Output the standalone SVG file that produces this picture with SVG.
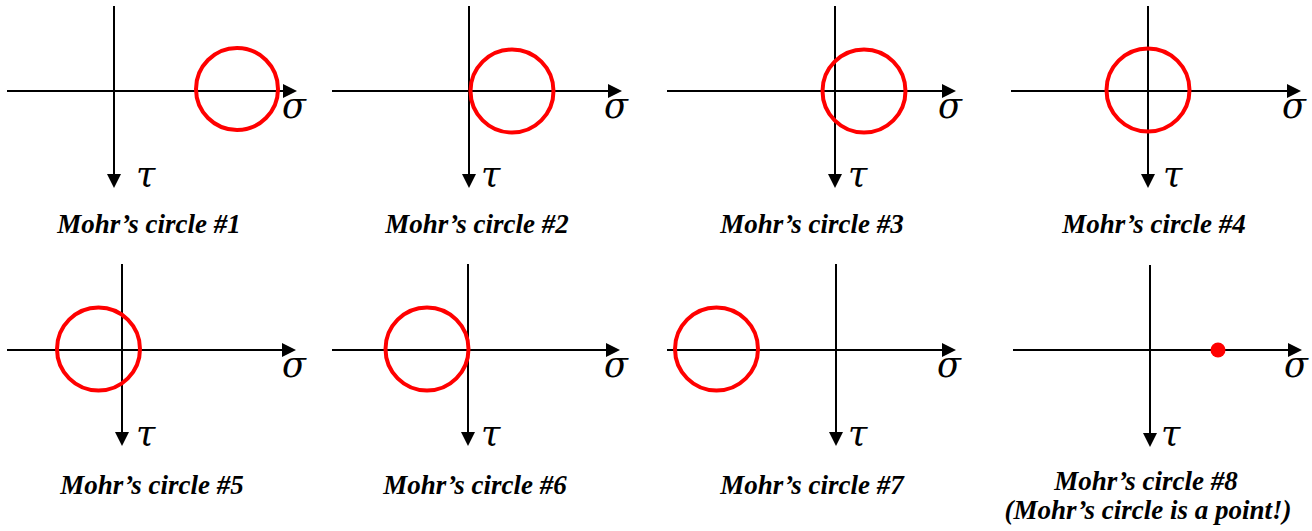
<svg xmlns="http://www.w3.org/2000/svg" width="1312" height="531" viewBox="0 0 1312 531">
<style>
.ax{stroke:#000;stroke-width:2;fill:none;marker-end:url(#ah)}
.mc{stroke:#ff0000;stroke-width:4;fill:none}
.dot{fill:#ff0000;stroke:none}
.gl{font-family:"DejaVu Serif","Liberation Serif",serif;font-style:italic;font-size:35px;fill:#000}
.cap{font-family:"Liberation Serif","Times New Roman",serif;font-style:italic;font-weight:bold;font-size:27px;fill:#000;text-anchor:middle}
</style>
<defs>
<marker id="ah" markerUnits="userSpaceOnUse" markerWidth="14" markerHeight="14" refX="2" refY="7" orient="auto" overflow="visible">
<path d="M0,0 L14,7 L0,14 Z" fill="#000"/>
</marker>
</defs>
<rect width="1312" height="531" fill="#fff"/>
<g id="connectors">
<line class="ax" x1="7" y1="91" x2="285" y2="91"/>
<line class="ax" x1="114" y1="6" x2="114" y2="176"/>
<line class="ax" x1="332" y1="91" x2="610" y2="91"/>
<line class="ax" x1="469" y1="6" x2="469" y2="176"/>
<line class="ax" x1="667" y1="91" x2="944" y2="91"/>
<line class="ax" x1="835" y1="6" x2="835" y2="176"/>
<line class="ax" x1="1011" y1="91" x2="1289" y2="91"/>
<line class="ax" x1="1148" y1="6" x2="1148" y2="176"/>
<line class="ax" x1="7" y1="350" x2="284" y2="350"/>
<line class="ax" x1="122" y1="264" x2="122" y2="434"/>
<line class="ax" x1="332" y1="350" x2="608" y2="350"/>
<line class="ax" x1="468" y1="264" x2="468" y2="434"/>
<line class="ax" x1="667" y1="350" x2="944" y2="350"/>
<line class="ax" x1="836" y1="264" x2="836" y2="434"/>
<line class="ax" x1="1013" y1="350" x2="1290" y2="350"/>
<line class="ax" x1="1150" y1="265" x2="1150" y2="435"/>
</g>
<g id="panel1">
<circle class="mc" cx="237" cy="89" r="41"/>
<text class="gl" x="282" y="118">σ</text>
<text class="gl" x="136" y="187">τ</text>
<text class="cap" x="149" y="233">Mohr’s circle #1</text>
</g>
<g id="panel2">
<circle class="mc" cx="512" cy="91" r="41.5"/>
<text class="gl" x="604" y="118">σ</text>
<text class="gl" x="481" y="187">τ</text>
<text class="cap" x="477" y="233">Mohr’s circle #2</text>
</g>
<g id="panel3">
<circle class="mc" cx="864" cy="91" r="41.5"/>
<text class="gl" x="938" y="118">σ</text>
<text class="gl" x="848" y="187">τ</text>
<text class="cap" x="812" y="233">Mohr’s circle #3</text>
</g>
<g id="panel4">
<circle class="mc" cx="1148" cy="90" r="41.5"/>
<text class="gl" x="1282" y="118">σ</text>
<text class="gl" x="1163" y="187">τ</text>
<text class="cap" x="1154" y="233">Mohr’s circle #4</text>
</g>
<g id="panel5">
<circle class="mc" cx="98.5" cy="349" r="41.5"/>
<text class="gl" x="282" y="377">σ</text>
<text class="gl" x="136" y="446">τ</text>
<text class="cap" x="152" y="494">Mohr’s circle #5</text>
</g>
<g id="panel6">
<circle class="mc" cx="427" cy="349" r="41.5"/>
<text class="gl" x="604" y="377">σ</text>
<text class="gl" x="481" y="446">τ</text>
<text class="cap" x="475" y="494">Mohr’s circle #6</text>
</g>
<g id="panel7">
<circle class="mc" cx="716.5" cy="349" r="41.5"/>
<text class="gl" x="937" y="377">σ</text>
<text class="gl" x="848" y="446">τ</text>
<text class="cap" x="812" y="494">Mohr’s circle #7</text>
</g>
<g id="panel8">
<circle class="dot" cx="1218" cy="350" r="7.5"/>
<text class="gl" x="1284" y="377">σ</text>
<text class="gl" x="1161" y="446">τ</text>
<text class="cap" x="1146" y="490">Mohr’s circle #8</text>
<text class="cap" x="1148" y="519">(Mohr’s circle is a point!)</text>
</g>
</svg>
